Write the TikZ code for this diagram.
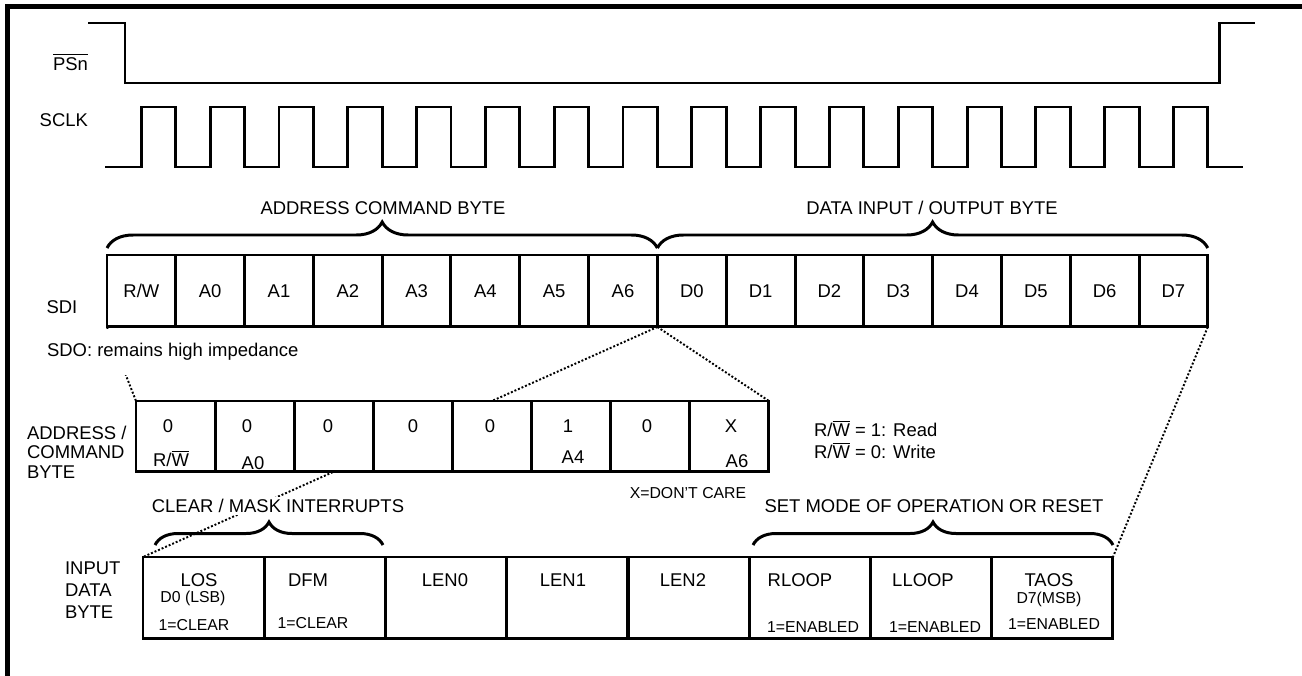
\documentclass[tikz,border=0pt]{standalone}
\usepackage{xcolor}
\usepackage{fontspec}
\setmainfont{Liberation Sans}
\usepackage{tikz}
\usetikzlibrary{positioning,calc,decorations.pathreplacing,backgrounds}
\definecolor{ink}{HTML}{000000}
\newcommand{\ovl}[1]{$\overline{\hbox{#1}}$}

\begin{document}
\begin{tikzpicture}[x=0.02cm,y=-0.02cm,
    wave/.style={draw=ink,line width=1.7pt},
    frame/.style={draw=ink,line width=2.8pt},
    cell/.style={draw=ink,fill=white,line width=1.7pt,inner sep=0pt,outer sep=0pt,anchor=north west},
    txt/.style={font=\fontsize{10.5}{11}\selectfont,inner sep=1pt,text=ink},
    small/.style={font=\fontsize{9}{10}\selectfont,inner sep=1pt,text=ink},
    brc/.style={draw=ink,decorate,decoration={brace,amplitude=#1},line width=1.7pt},
    dots/.style={draw=ink,line width=1.1pt,dash pattern=on 1.1pt off 1.1pt}]
  \useasboundingbox (0,0) rectangle (1302,676);
  \draw[frame] (7.5,676) -- (7.5,6.5) -- (1302,6.5);

  \node[txt,anchor=east] (psn) at (90,62) {\ovl{PSn}};
  \node[txt,anchor=east] (sclk) at (90,120) {SCLK};
  \draw[wave] (88,23) -- (125,23) -- (125,83) -- (1219,83) -- (1219,23) -- (1255,23);
  \draw[wave] (105,167) foreach \k in {0,...,15} {
      -- ({141.4+\k*68.8},167) -- ({141.4+\k*68.8},107)
      -- ({175.8+\k*68.8},107) -- ({175.8+\k*68.8},167)} -- (1243,167);

  \foreach \t [count=\i from 0] in {R/W,A0,A1,A2,A3,A4,A5,A6,D0,D1,D2,D3,D4,D5,D6,D7}
    \node[cell,txt,minimum width=1.376cm,minimum height=1.44cm] (sdi\i) at ({107+\i*68.8},255) {\t};
  \node[txt] (sdi) at (62,307) {SDI};
  \draw[brc=0.52cm] (sdi0.north west) ++(0,-7) -- ($(sdi7.north east)+(0,-7)$);
  \draw[brc=0.52cm] (sdi8.north west) ++(0,-7) -- ($(sdi15.north east)+(0,-7)$);
  \node[txt] (acbtitle) at (383,208) {ADDRESS COMMAND BYTE};
  \node[txt] (dtitle) at (932,208) {DATA INPUT / OUTPUT BYTE};
  \node[txt,anchor=west,fill=white,inner ysep=8pt] (sdo) at (45,352) {SDO: remains high impedance};

  \foreach \i in {1,...,8}
    \node[cell,minimum width=1.5825cm,minimum height=1.42cm] (acb\i) at ({136+(\i-1)*79.125},401) {};
  \foreach \v/\x [count=\i] in {0/168,0/247,0/328,0/413,0/490,1/568,0/647,X/731}
    \node[txt] (acbv\i) at (\x,426) {\v};
  \node[txt] (acbl1) at (171,458) {R/\ovl{W}};
  \node[txt] (acbl2) at (253,463) {A0};
  \node[txt] (acbl6) at (573,457) {A4};
  \node[txt] (acbl8) at (737,461) {A6};
  \node[txt,anchor=west,align=left] (acb) at (25,452) {ADDRESS /\\COMMAND\\BYTE};
  \node[txt,anchor=west] (rd) at (812,428) {R/\ovl{W} = 1: Read};
  \node[txt,anchor=west] (wr) at (812,450) {R/\ovl{W} = 0: Write};
  \node[small] (dc) at (688,493) {X=DON'T CARE};

  \node[txt,fill=white] (clr) at (278,506) {CLEAR / MASK INTERRUPTS};
  \node[txt] (setm) at (934,506) {SET MODE OF OPERATION OR RESET};

  \foreach \i in {1,...,8}
    \node[cell,minimum width=2.425cm,minimum height=1.64cm] (idb\i) at ({143+(\i-1)*121.25},557) {};
  \draw[brc=0.46cm] (155,545) -- (383,545);
  \draw[brc=0.46cm] (753,545) -- (1113,545);
  \foreach \t/\x [count=\i] in {LOS/199,DFM/308,LEN0/445,LEN1/563,LEN2/683,RLOOP/800,LLOOP/923,TAOS/1049}
    \node[txt] (idbn\i) at (\x,580) {\t};
  \node[small] (lsb) at (193,598) {D0 (LSB)};
  \node[small] (msb) at (1049,599) {D7(MSB)};
  \node[small] (los1) at (194,625) {1=CLEAR};
  \node[small] (dfm1) at (313,623) {1=CLEAR};
  \node[small] (rl1) at (813,627) {1=ENABLED};
  \node[small] (ll1) at (935,627) {1=ENABLED};
  \node[small] (ta1) at (1054,624) {1=ENABLED};
  \node[txt,anchor=west,align=left,font=\fontsize{10.5}{12.5}\selectfont] (idb) at (63,590) {INPUT\\DATA\\BYTE};

  \begin{scope}[on background layer]
    \fill[white] (0,0) rectangle (1302,676);
    \draw[dots] (sdi0.south west) -- (acb1.north west);
    \draw[dots] (sdi7.south east) -- (acb8.north east);
    \draw[dots] (sdi7.south east) -- (idb1.north west);
    \draw[dots] (sdi15.south east) -- (idb8.north east);
  \end{scope}
\end{tikzpicture}
\end{document}
